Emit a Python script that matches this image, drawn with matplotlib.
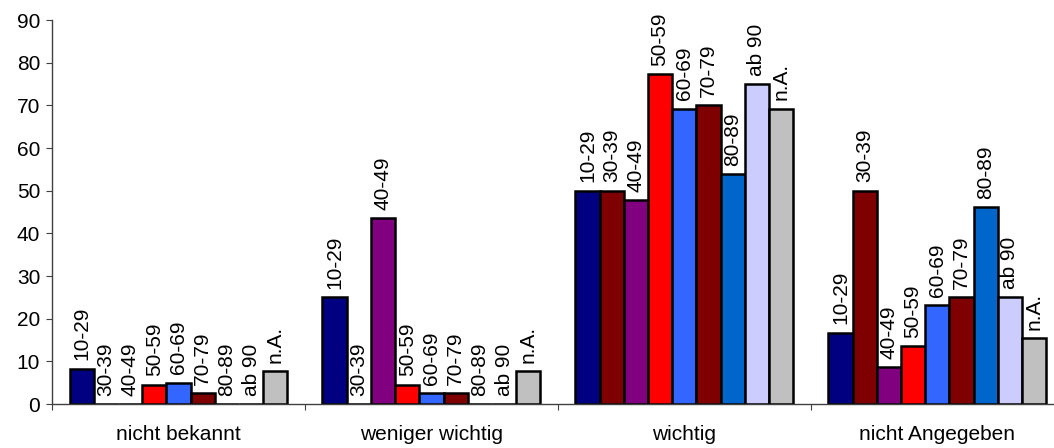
import numpy as np
import matplotlib.pyplot as plt

plt.rcParams['font.family'] = ['Liberation Sans', 'DejaVu Sans']

categories = ['nicht bekannt', 'weniger wichtig', 'wichtig', 'nicht Angegeben']
ages = ['10-29', '30-39', '40-49', '50-59', '60-69', '70-79', '80-89', 'ab 90', 'n.A.']

# one list per age group, values per category
v_10_29 = [8.3, 25.0, 50.0, 16.7]
v_30_39 = [0.0, 0.0, 50.0, 50.0]
v_40_49 = [0.0, 43.5, 47.8, 8.7]
v_50_59 = [4.5, 4.5, 77.3, 13.6]
v_60_69 = [5.0, 2.5, 69.2, 23.1]
v_70_79 = [2.5, 2.5, 70.0, 25.0]
v_80_89 = [0.0, 0.0, 53.8, 46.2]
v_ab_90 = [0.0, 0.0, 75.0, 25.0]
v_na = [7.7, 7.7, 69.2, 15.4]

series = [v_10_29, v_30_39, v_40_49, v_50_59, v_60_69, v_70_79, v_80_89, v_ab_90, v_na]
colors = ['#000080', '#7F0000', '#800080', '#FF0000', '#3366FF',
          '#7F0000', '#0066CC', '#CCCCFF', '#C0C0C0']

fig = plt.figure(figsize=(10.54, 4.48), dpi=100)
ax = fig.add_axes([0.0493, 0.0982, 0.960, 0.857])

ind = np.arange(len(categories)) + 0.5  # group centers
width = 0.0957

for i, (vals, col) in enumerate(zip(series, colors)):
    x = ind + (i - 4) * width
    ax.bar(x, vals, width, color=col, edgecolor='black', linewidth=1.8)
    for xi, v in zip(x, vals):
        ax.annotate(ages[i], (xi, v), xytext=(0, 6), textcoords='offset points',
                    rotation=90, ha='center', va='bottom', fontsize=15)

ax.set_xlim(0, 4)
ax.set_ylim(0, 90)
ax.set_yticks(np.arange(0, 91, 10))
ax.set_xticks(np.arange(0, 5))
ax.set_xticklabels([])
ax.set_xticks(ind, minor=True)
ax.set_xticklabels(categories, minor=True, fontsize=15)
ax.tick_params(axis='x', which='minor', length=0, pad=15)
ax.tick_params(axis='x', which='major', length=4.5, color='#404040')
ax.tick_params(axis='y', length=4.5, labelsize=15, color='#404040', pad=4)

for s in ['top', 'right']:
    ax.spines[s].set_visible(False)
for s in ['left', 'bottom']:
    ax.spines[s].set_color('#404040')
    ax.spines[s].set_linewidth(1.0)

fig.savefig('out.png', dpi=100)
